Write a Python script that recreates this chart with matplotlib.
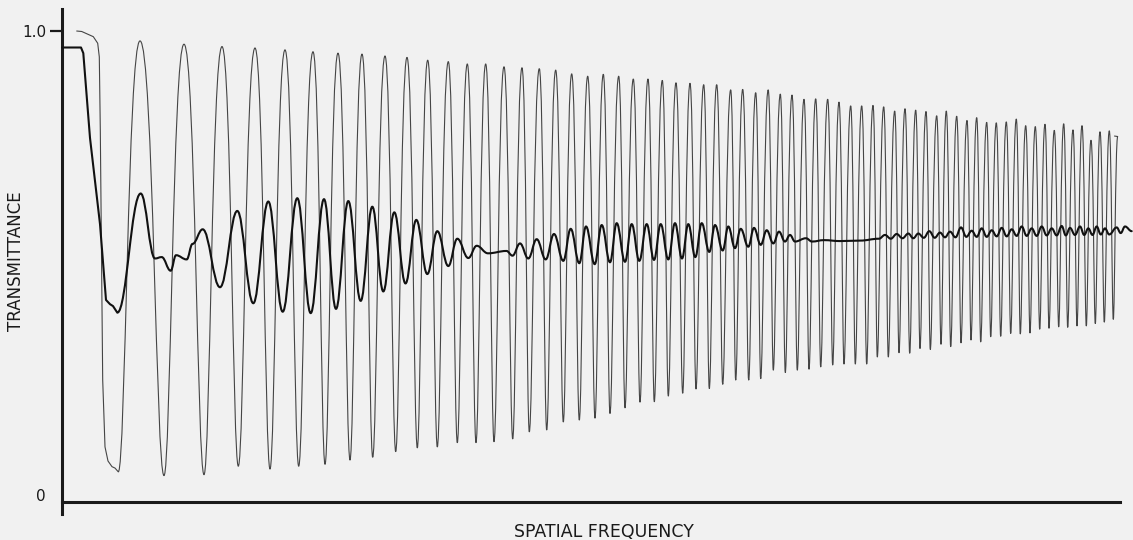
import matplotlib
matplotlib.use("Agg")
import matplotlib.pyplot as plt
from matplotlib.path import Path
from matplotlib.patches import PathPatch

# spatial frequency in arbitrary units, transmittance 0..1
# thin trace: lead-in, then alternating trough/peak turning points, then end hook
thin_lead_u = [14.7, 19.7, 31.3, 35.7, 37.3, 38.3, 40.7, 43, 46, 50, 53, 56.3]
thin_lead_v = [1.000, 0.999, 0.988, 0.974, 0.945, 0.790, 0.259, 0.117, 0.087, 0.075, 0.072, 0.064]

thin_u = [56.3, 78, 102, 122, 142, 160, 176.3, 193, 208, 223, 236.7, 251, 263, 276, 288, 300,
          310.7, 323, 333.7, 345, 355.3, 365.7, 375.3, 386.3, 395.3, 405.3, 414, 423.7, 432, 442,
          450.7, 460, 467.3, 477.3, 484.7, 493.7, 501.3, 509.7, 517.3, 525.7, 533, 541.3, 548,
          556.7, 563, 571.3, 578, 586, 592.3, 600.3, 606.3, 614, 620.7, 628, 634, 641.7, 647.3,
          654.7, 660.7, 668.7, 673.7, 680.7, 686.7, 693.7, 698.7, 706.2, 711.3, 718.3, 723.3, 730,
          735.3, 742, 747, 753.7, 758.7, 765.7, 770.7, 777, 782, 788.7, 793.3, 799.7, 804.7, 811,
          815.3, 821.7, 826.3, 832.7, 837, 843, 847.7, 853.7, 858, 864, 868.3, 874.7, 879, 884.3,
          888.7, 894.7, 899, 905, 909, 914.7, 918.7, 924.7, 928.7, 934.3, 938.7, 944.3, 948.7,
          954.3, 958.3, 963.7, 968, 973.3, 977.7, 983, 987, 992.3, 996.7, 1001.7, 1005.7, 1011,
          1015, 1020, 1024.3, 1029, 1033.3, 1038, 1042.3, 1047.3, 1051.3, 1055.7]
thin_v = [0.064, 0.979, 0.056, 0.972, 0.058, 0.967, 0.076, 0.964, 0.070, 0.960, 0.076, 0.956,
          0.080, 0.953, 0.089, 0.951, 0.095, 0.947, 0.107, 0.944, 0.115, 0.938, 0.117, 0.935,
          0.126, 0.930, 0.126, 0.930, 0.128, 0.924, 0.134, 0.922, 0.149, 0.920, 0.153, 0.917,
          0.170, 0.909, 0.174, 0.904, 0.178, 0.908, 0.188, 0.904, 0.200, 0.898, 0.212, 0.898,
          0.213, 0.895, 0.225, 0.890, 0.231, 0.889, 0.240, 0.886, 0.241, 0.886, 0.250, 0.875,
          0.259, 0.876, 0.259, 0.869, 0.262, 0.875, 0.280, 0.866, 0.275, 0.864, 0.280, 0.855,
          0.282, 0.856, 0.287, 0.855, 0.291, 0.849, 0.293, 0.841, 0.293, 0.841, 0.293, 0.842,
          0.308, 0.839, 0.308, 0.830, 0.317, 0.835, 0.316, 0.832, 0.326, 0.829, 0.324, 0.820,
          0.335, 0.830, 0.330, 0.819, 0.338, 0.810, 0.344, 0.816, 0.340, 0.806, 0.351, 0.805,
          0.352, 0.807, 0.358, 0.813, 0.357, 0.799, 0.359, 0.797, 0.367, 0.802, 0.369, 0.789,
          0.372, 0.803, 0.371, 0.790, 0.374, 0.799, 0.374, 0.768, 0.379, 0.786, 0.382, 0.788,
          0.388, 0.776]
thin_tail_u = [1052.5]
thin_tail_v = [0.777]

# thick trace
thick_lead_u = [0, 19, 21.3, 28, 38, 44, 48, 51, 55.3]
thick_lead_v = [0.965, 0.965, 0.953, 0.773, 0.590, 0.429, 0.420, 0.416, 0.402]

thick_u = [55.3, 78.7, 93, 99.7, 108.7, 114, 124.7, 130.5, 140.7, 158, 175.3, 191.3, 206.3,
           220.7, 235.3, 248.7, 262, 274, 286.3, 298.7, 310.3, 321.3, 332.3, 343.5, 354.3, 365.3,
           375.3, 386.3, 395.3, 406.3, 414.7, 426, 444.5, 450.5, 458, 466.3, 474.7, 483.7, 492,
           501.3, 508.7, 517.3, 524, 532.7, 539.7, 548, 554.7, 563, 569.7, 577.3, 584.7, 592,
           598.7, 606.3, 613, 620, 626.3, 633.3, 639.7, 647.3, 653, 660.7, 666.3, 673, 678.7,
           686.3, 692, 698.7, 704.7, 711.3, 717, 723, 728, 733, 744, 750, 762, 778, 798, 817,
           823, 828.8, 834.7, 840.5, 846.3, 851.3, 856.3, 861.8, 867.3, 872.7, 878, 883, 888,
           893.5, 899, 904.3, 909.7, 914.7, 919.7, 924.7, 929.7, 934.7, 939.7, 944.7, 949.7,
           954.7, 959.7, 964.7, 969.7, 974.7, 979.7, 984.7, 989.7, 994.7, 999.7, 1003.8, 1008,
           1013, 1018, 1022.2, 1026.3, 1030.5, 1034.7, 1038.8, 1043, 1047.2, 1054.7, 1058.7,
           1063, 1069.7]
thick_v = [0.402, 0.655, 0.517, 0.520, 0.491, 0.524, 0.515, 0.548, 0.579, 0.456, 0.618, 0.422,
           0.638, 0.404, 0.645, 0.401, 0.643, 0.410, 0.639, 0.427, 0.627, 0.447, 0.615, 0.464,
           0.599, 0.484, 0.575, 0.501, 0.559, 0.518, 0.544, 0.528, 0.533, 0.523, 0.549, 0.517,
           0.558, 0.515, 0.569, 0.512, 0.580, 0.507, 0.585, 0.505, 0.588, 0.509, 0.592, 0.510,
           0.590, 0.512, 0.590, 0.514, 0.590, 0.515, 0.592, 0.517, 0.590, 0.520, 0.592, 0.531,
           0.588, 0.534, 0.585, 0.539, 0.580, 0.542, 0.582, 0.546, 0.577, 0.549, 0.574, 0.553,
           0.567, 0.553, 0.560, 0.553, 0.556, 0.554, 0.555, 0.559,
           0.567, 0.559, 0.569, 0.560, 0.570, 0.560, 0.570, 0.561, 0.575, 0.561, 0.572, 0.562,
           0.574, 0.562, 0.583, 0.563, 0.576, 0.563, 0.581, 0.563, 0.577, 0.564, 0.582, 0.564,
           0.579, 0.565, 0.585, 0.565, 0.581, 0.565, 0.585, 0.566, 0.581, 0.566, 0.586, 0.566,
           0.582, 0.567, 0.585, 0.567, 0.581, 0.567, 0.585, 0.568, 0.581, 0.568, 0.583, 0.571,
           0.585, 0.575]

assert len(thin_u) == len(thin_v) and len(thick_u) == len(thick_v)

BG = "#f1f1f1"
INK = "#1a1a1a"


def trace_path(lead_u, lead_v, ext_u, ext_v, k_hi, k_lo, tail_u=(), tail_v=()):
    # straight lead-in, then smooth bezier arcs between turning points
    verts = list(zip(lead_u, lead_v))
    codes = [Path.MOVETO] + [Path.LINETO] * (len(verts) - 1)
    for x0, y0, x1, y1 in zip(ext_u[:-1], ext_v[:-1], ext_u[1:], ext_v[1:]):
        dx = x1 - x0
        k0 = k_hi if y0 > y1 else k_lo
        k1 = k_hi if y1 > y0 else k_lo
        verts += [(x0 + k0 * dx, y0), (x1 - k1 * dx, y1), (x1, y1)]
        codes += [Path.CURVE4] * 3
    for u, v in zip(tail_u, tail_v):
        verts.append((u, v))
        codes.append(Path.LINETO)
    return Path(verts, codes)


fig = plt.figure(figsize=(11.33, 5.4), dpi=100, facecolor=BG)
ax = fig.add_axes([62 / 1133, 26 / 540, 1058 / 1133, 505.4 / 540])
ax.set_facecolor(BG)
ax.set_xlim(0, 1058)
ax.set_ylim(-0.0255, 1.0476)

ax.spines[["top", "right"]].set_visible(False)
ax.spines["bottom"].set_position(("data", 0))
ax.spines[["left", "bottom"]].set_linewidth(2.2)
ax.spines[["left", "bottom"]].set_color(INK)

ax.set_xticks([])
ax.set_yticks([1.0], ["1.0"])
ax.tick_params(axis="y", length=8.6, width=1.6, pad=2.4, labelsize=11, colors=INK)
ax.annotate("0", xy=(0, 0), xycoords=("axes fraction", "data"), xytext=(-16, 5),
            textcoords="offset pixels", ha="right", va="center", fontsize=11, color=INK)

thin = trace_path(thin_lead_u, thin_lead_v, thin_u, thin_v, 0.55, 0.33, thin_tail_u, thin_tail_v)
ax.add_patch(PathPatch(thin, facecolor="none", edgecolor="#454545", linewidth=0.8,
                       joinstyle="round", capstyle="round", clip_on=False))

thick = trace_path(thick_lead_u, thick_lead_v, thick_u, thick_v, 0.4, 0.4)
ax.add_patch(PathPatch(thick, facecolor="none", edgecolor="#111111", linewidth=1.5,
                       joinstyle="round", capstyle="round", clip_on=False, zorder=3))

fig.text(16 / 1133, 1 - 261 / 540, "TRANSMITTANCE", rotation=90, ha="center", va="center",
         fontsize=12, color=INK)
fig.text(604 / 1133, 1 - 531.7 / 540, "SPATIAL FREQUENCY", ha="center", va="center",
         fontsize=12.5, color=INK)

fig.savefig("out.png", dpi=100, facecolor=BG)
